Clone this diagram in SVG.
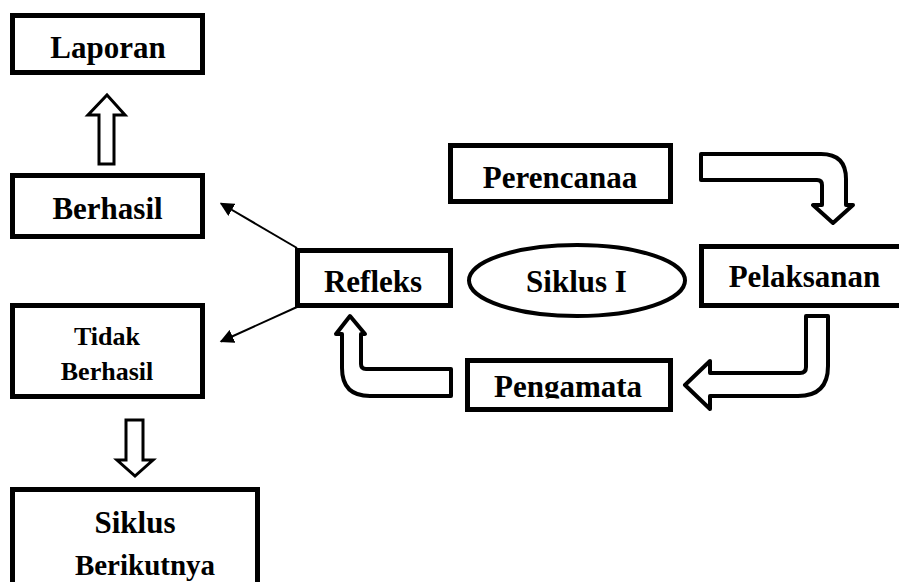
<svg xmlns="http://www.w3.org/2000/svg" width="899" height="582" viewBox="0 0 899 582">
  <style>
    .box { fill: #fff; stroke: #000; stroke-width: 5; }
    .blk { fill: #fff; stroke: #000; stroke-width: 4; stroke-linejoin: round; }
    .blk3 { fill: #fff; stroke: #000; stroke-width: 3; stroke-linejoin: miter; }
    .thin { stroke: #000; stroke-width: 2; fill: none; }
    text { font-family: "Liberation Serif", "Times New Roman", serif; font-weight: bold; font-size: 31px; fill: #000; text-anchor: middle; }
    .sm { font-size: 26px; }
  </style>
  <defs>
    <marker id="ah" viewBox="0 0 10 10" refX="9" refY="5" markerWidth="7" markerHeight="7" markerUnits="strokeWidth" orient="auto">
      <path d="M0,0 L10,5 L0,10 Z" fill="#000"/>
    </marker>
    <clipPath id="clipPeng">
      <rect x="470" y="363" width="198" height="35.5"/>
    </clipPath>
  </defs>
  <rect width="899" height="582" fill="#fff"/>

  <g id="connectors">
    <path class="blk3" d="M107,95 L125,115 L114,115 L114,164 L99,164 L99,115 L88,115 Z"/>
    <path class="blk3" d="M126,420 L143,420 L143,460 L153,460 L135,476 L117,460 L126,460 Z"/>
    <line class="thin" x1="297" y1="248" x2="221" y2="203.5" marker-end="url(#ah)"/>
    <line class="thin" x1="297" y1="307" x2="221" y2="341.5" marker-end="url(#ah)"/>
    <path class="blk" d="M701,154 L821,154 Q846,154 846,179 L846,205 L853,205 L833,223 L813,205 L822,205 L822,185 Q822,180 817,180 L701,180 Z"/>
    <path class="blk" d="M806,316 L828,316 L828,366 Q828,396 798,396 L710,396 L710,409 L685,385 L710,361 L710,373 L800,373 Q806,373 806,367 Z"/>
    <path class="blk" d="M350,316 L365,334 L361,334 L361,364 Q361,369 366,369 L451,369 L451,396 L370,396 Q342,396 342,368 L342,334 L336,334 Z"/>
  </g>

  <g id="laporan">
    <rect class="box" x="12.5" y="15.5" width="190" height="57"/>
    <text x="108" y="58">Laporan</text>
  </g>
  <g id="berhasil">
    <rect class="box" x="12.5" y="175.5" width="190" height="61"/>
    <text x="107.5" y="219">Berhasil</text>
  </g>
  <g id="tidak-berhasil">
    <rect class="box" x="12.5" y="305.5" width="190" height="91"/>
    <text class="sm" x="107" y="345">Tidak</text>
    <text class="sm" x="107" y="380">Berhasil</text>
  </g>
  <g id="siklus-berikutnya">
    <rect class="box" x="12.5" y="489.5" width="245" height="120"/>
    <text x="135" y="533">Siklus</text>
    <text x="145" y="575" style="font-size:29px">Berikutnya</text>
  </g>
  <g id="refleks">
    <rect class="box" x="297.5" y="250.5" width="153" height="55"/>
    <text x="373" y="292">Refleks</text>
  </g>
  <g id="siklus-i">
    <ellipse cx="577" cy="280.5" rx="108" ry="35.5" fill="#fff" stroke="#000" stroke-width="4"/>
    <text x="576.5" y="292">Siklus I</text>
  </g>
  <g id="perencanaa">
    <rect class="box" x="450.5" y="145.5" width="220" height="56"/>
    <text x="560" y="188">Perencanaa</text>
  </g>
  <g id="pelaksanan">
    <rect class="box" x="701.5" y="246.5" width="220" height="59"/>
    <text x="804.5" y="287">Pelaksanan</text>
  </g>
  <g id="pengamata">
    <rect class="box" x="467.5" y="360.5" width="203" height="49"/>
    <text x="568" y="397" clip-path="url(#clipPeng)">Pengamata</text>
  </g>
</svg>
